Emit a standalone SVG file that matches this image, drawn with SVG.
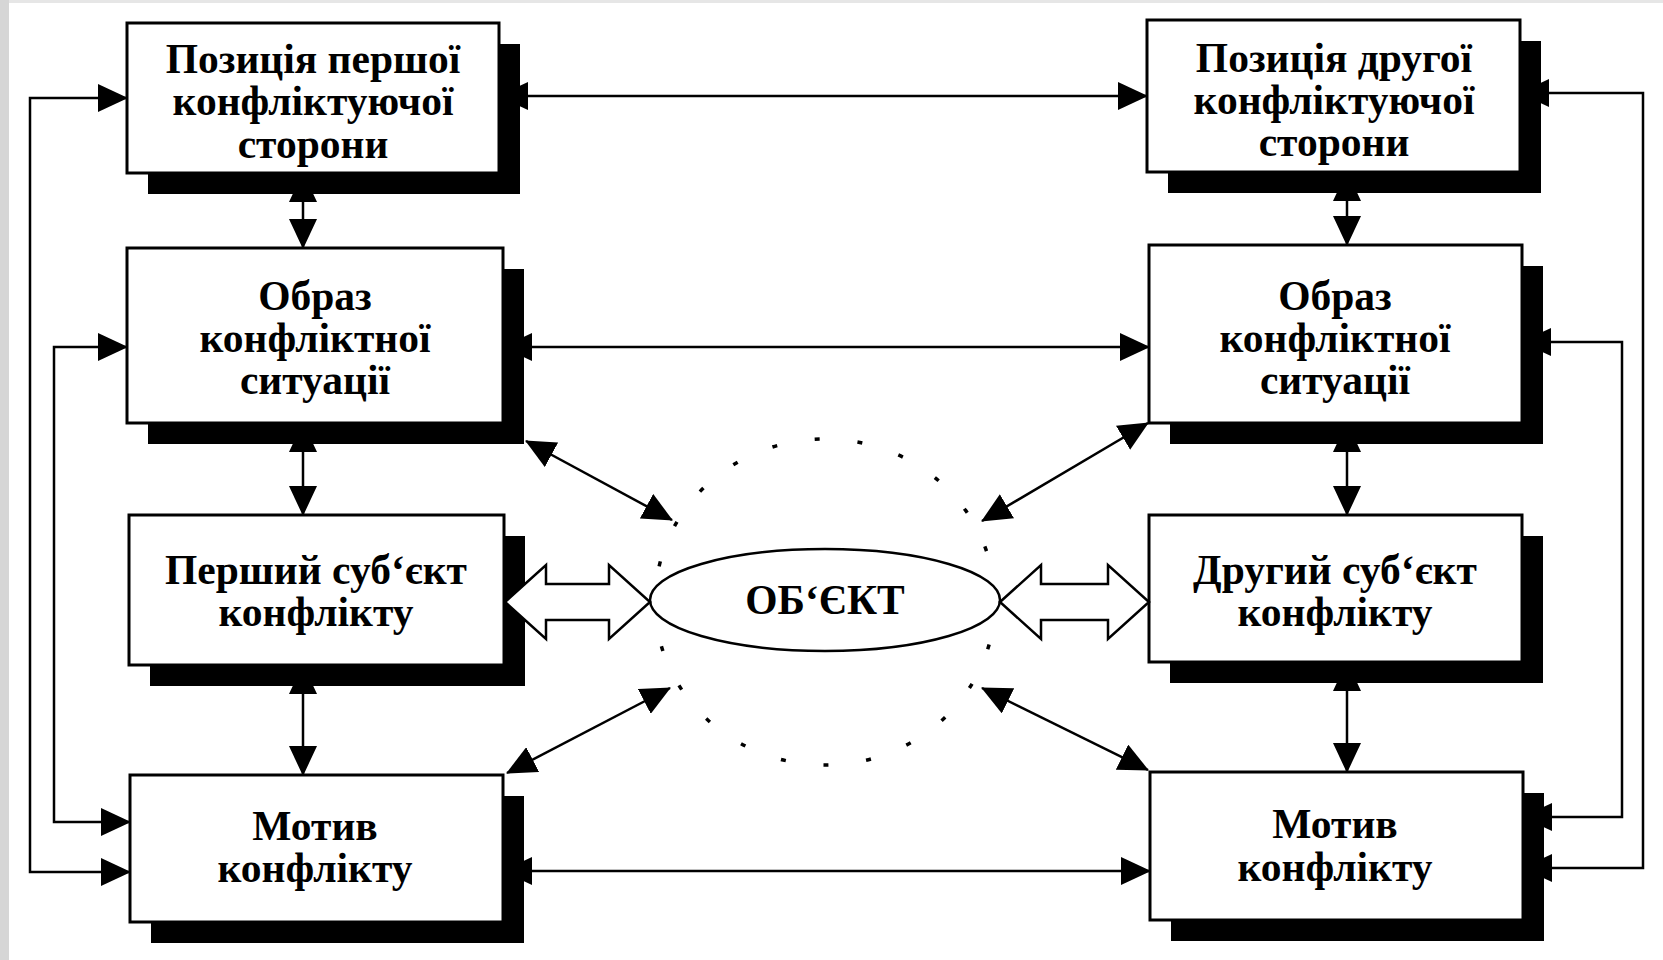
<svg xmlns="http://www.w3.org/2000/svg" width="1663" height="960" viewBox="0 0 1663 960">
<style>
.bg{fill:#fff}
.box{fill:#fff;stroke:#000;stroke-width:3}
.sh{fill:#000}
.t{font-family:"Liberation Serif","Times New Roman",serif;font-weight:bold;font-size:41.5px;text-anchor:middle;fill:#000}
.c{fill:none;stroke:#000;stroke-width:2.5}
.dbl{fill:#fff;stroke:#000;stroke-width:2.5;stroke-linejoin:miter}
.dots{fill:none;stroke:#000;stroke-width:3.5;stroke-dasharray:5 38}
.ov{fill:#fff;stroke:#000;stroke-width:2.5}
</style>
<defs>
<marker id="ah" markerUnits="userSpaceOnUse" markerWidth="30" markerHeight="28" refX="29" refY="14" orient="auto-start-reverse" viewBox="0 0 30 28">
<path d="M0,0 L30,14 L0,28 Z" fill="#000"/>
</marker>
</defs>
<rect class="bg" x="0" y="0" width="1663" height="960"/>
<rect x="0" y="0" width="1663" height="3" fill="#e6e6e6"/>
<rect x="0" y="0" width="9" height="960" fill="#d6d6d6"/>

<g id="object">
<ellipse class="dots" cx="825" cy="602" rx="170" ry="163"/>
<ellipse class="ov" cx="825" cy="600" rx="175" ry="51"/>
<text class="t" x="825" y="614">ОБ‘ЄКТ</text>
</g>

<g id="pos1">
<rect class="sh" x="148" y="44" width="372" height="150"/>
<rect class="box" x="127" y="23" width="372" height="150"/>
<text class="t" x="313" y="73">Позиція першої</text>
<text class="t" x="313" y="115">конфліктуючої</text>
<text class="t" x="313" y="158">сторони</text>
</g>
<g id="image1">
<rect class="sh" x="148" y="269" width="376" height="175"/>
<rect class="box" x="127" y="248" width="376" height="175"/>
<text class="t" x="315" y="310">Образ</text>
<text class="t" x="315" y="352">конфліктної</text>
<text class="t" x="315" y="394">ситуації</text>
</g>
<g id="subject1">
<rect class="sh" x="150" y="536" width="375" height="150"/>
<rect class="box" x="129" y="515" width="375" height="150"/>
<text class="t" x="316" y="584">Перший суб‘єкт</text>
<text class="t" x="316" y="626">конфлікту</text>
</g>
<g id="motive1">
<rect class="sh" x="151" y="796" width="373" height="147"/>
<rect class="box" x="130" y="775" width="373" height="147"/>
<text class="t" x="315" y="840">Мотив</text>
<text class="t" x="315" y="882">конфлікту</text>
</g>

<g id="pos2">
<rect class="sh" x="1168" y="41" width="373" height="152"/>
<rect class="box" x="1147" y="20" width="373" height="152"/>
<text class="t" x="1334" y="72">Позиція другої</text>
<text class="t" x="1334" y="114">конфліктуючої</text>
<text class="t" x="1334" y="156">сторони</text>
</g>
<g id="image2">
<rect class="sh" x="1170" y="266" width="373" height="178"/>
<rect class="box" x="1149" y="245" width="373" height="178"/>
<text class="t" x="1335" y="310">Образ</text>
<text class="t" x="1335" y="352">конфліктної</text>
<text class="t" x="1335" y="394">ситуації</text>
</g>
<g id="subject2">
<rect class="sh" x="1170" y="536" width="373" height="147"/>
<rect class="box" x="1149" y="515" width="373" height="147"/>
<text class="t" x="1335" y="584">Другий суб‘єкт</text>
<text class="t" x="1335" y="626">конфлікту</text>
</g>
<g id="motive2">
<rect class="sh" x="1171" y="793" width="373" height="148"/>
<rect class="box" x="1150" y="772" width="373" height="148"/>
<text class="t" x="1335" y="838">Мотив</text>
<text class="t" x="1335" y="881">конфлікту</text>
</g>

<g id="connectors">
<path class="c" d="M499,96 H1147" marker-start="url(#ah)" marker-end="url(#ah)"/>
<path class="c" d="M503,347 H1149" marker-start="url(#ah)" marker-end="url(#ah)"/>
<path class="c" d="M503,871 H1150" marker-start="url(#ah)" marker-end="url(#ah)"/>
<path class="c" d="M127,98 H30 V872 H130" marker-start="url(#ah)" marker-end="url(#ah)"/>
<path class="c" d="M127,347 H54 V822 H130" marker-start="url(#ah)" marker-end="url(#ah)"/>
<path class="c" d="M1520,93 H1643 V868 H1523" marker-start="url(#ah)" marker-end="url(#ah)"/>
<path class="c" d="M1522,342 H1622 V817 H1523" marker-start="url(#ah)" marker-end="url(#ah)"/>
<path class="c" d="M303,173 V248" marker-start="url(#ah)" marker-end="url(#ah)"/>
<path class="c" d="M303,423 V515" marker-start="url(#ah)" marker-end="url(#ah)"/>
<path class="c" d="M303,665 V775" marker-start="url(#ah)" marker-end="url(#ah)"/>
<path class="c" d="M1347,172 V245" marker-start="url(#ah)" marker-end="url(#ah)"/>
<path class="c" d="M1347,423 V515" marker-start="url(#ah)" marker-end="url(#ah)"/>
<path class="c" d="M1347,662 V772" marker-start="url(#ah)" marker-end="url(#ah)"/>
<path class="c" d="M526,441 L672,520" marker-start="url(#ah)" marker-end="url(#ah)"/>
<path class="c" d="M1148,423 L982,521" marker-start="url(#ah)" marker-end="url(#ah)"/>
<path class="c" d="M507,773 L670,688" marker-start="url(#ah)" marker-end="url(#ah)"/>
<path class="c" d="M1148,770 L982,688" marker-start="url(#ah)" marker-end="url(#ah)"/>
<polygon class="dbl" points="505,602 546,565 546,584 609,584 609,565 650,602 609,639 609,620 546,620 546,639"/>
<polygon class="dbl" points="1000,602 1041,565 1041,584 1108,584 1108,565 1149,602 1108,639 1108,620 1041,620 1041,639"/>
</g>
</svg>
